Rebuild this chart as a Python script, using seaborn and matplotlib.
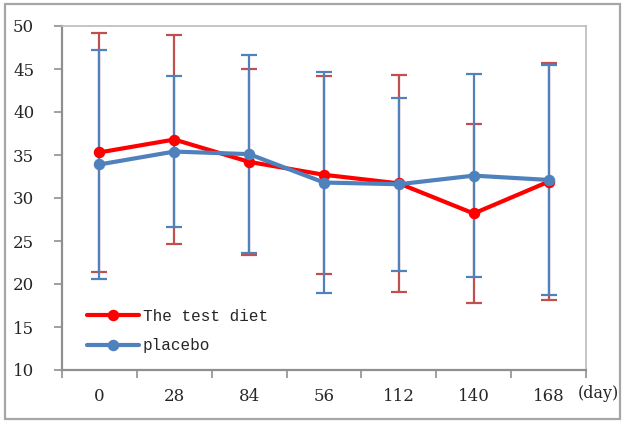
import matplotlib
matplotlib.use("Agg")
import matplotlib.pyplot as plt
import seaborn as sns
import pandas as pd
import numpy as np
from matplotlib.patches import Rectangle

days = ["0", "28", "84", "56", "112", "140", "168"]
test_mean = [35.3, 36.8, 34.2, 32.7, 31.7, 28.2, 31.9]
test_sd = [13.9, 12.15, 10.85, 11.5, 12.6, 10.45, 13.8]
placebo_mean = [33.9, 35.4, 35.1, 31.8, 31.6, 32.6, 32.1]
placebo_sd = [13.35, 8.8, 11.55, 12.8, 10.05, 11.8, 13.4]
series_names = ["The test diet", "placebo"]
yticks = [10, 15, 20, 25, 30, 35, 40, 45, 50]

line_colors = ["#FF0000", "#4F81BD"]
err_colors = ["#C0504D", "#4F81BD"]

sns.set_style("white")
plt.rcParams["font.family"] = ["DejaVu Serif"]

fig = plt.figure(figsize=(6.22, 4.21), dpi=100)
ax = fig.add_axes([62/622, 51/421, 524/622, 344/421])

df = pd.DataFrame({
    "day": days * 2,
    "value": test_mean + placebo_mean,
    "series": [series_names[0]] * len(days) + [series_names[1]] * len(days),
})

pos = np.arange(len(days))
for m, s, c in zip([test_mean, placebo_mean], [test_sd, placebo_sd], err_colors):
    ax.errorbar(pos, m, yerr=s, fmt="none", ecolor=c, elinewidth=1.6,
                capsize=6, capthick=1.6, zorder=1)

sns.pointplot(data=df, x="day", y="value", hue="series", order=days,
              hue_order=series_names, palette=line_colors, errorbar=None,
              markers="o", ax=ax, linewidth=3, markersize=6)

ax.set_xlim(-0.5, len(days) - 0.5)
ax.set_ylim(10, 50)
ax.set_yticks(yticks)
ax.set_yticklabels([str(v) for v in yticks], fontsize=12)
ax.set_xticks(pos)
ax.set_xticklabels(days, fontsize=12)
ax.set_xlabel("")
ax.set_ylabel("")
ax.set_xticks(np.arange(-0.5, len(days), 1.0), minor=True)
ax.tick_params(axis="x", which="major", bottom=True, length=0, pad=13)
ax.tick_params(axis="x", which="minor", bottom=True, length=6, width=1.3,
               color="#999999", direction="out")
ax.tick_params(axis="y", which="major", left=True, length=6, width=1.3,
               color="#999999", direction="out", pad=14)

for side in ["left", "bottom"]:
    ax.spines[side].set_color("#909090")
    ax.spines[side].set_linewidth(1.6)
for side in ["top", "right"]:
    ax.spines[side].set_color("#BBBBBB")
    ax.spines[side].set_linewidth(1.2)
    ax.spines[side].set_visible(True)

leg = ax.legend(loc="lower left", bbox_to_anchor=(0.035, 0.03), frameon=False,
                prop={"family": "Liberation Mono", "size": 11.5},
                handlelength=3.3, handletextpad=0.2, labelspacing=0.9,
                borderaxespad=0)

fig.text(578/622, 1 - 393/421, "(day)", fontsize=11.5, ha="left", va="center")

fig.patches.append(Rectangle((5/622, 2/421), 615/622, 415/421, transform=fig.transFigure,
                             fill=False, edgecolor="#A6A6A6", linewidth=1.6))

fig.savefig("out.png", dpi=100)
